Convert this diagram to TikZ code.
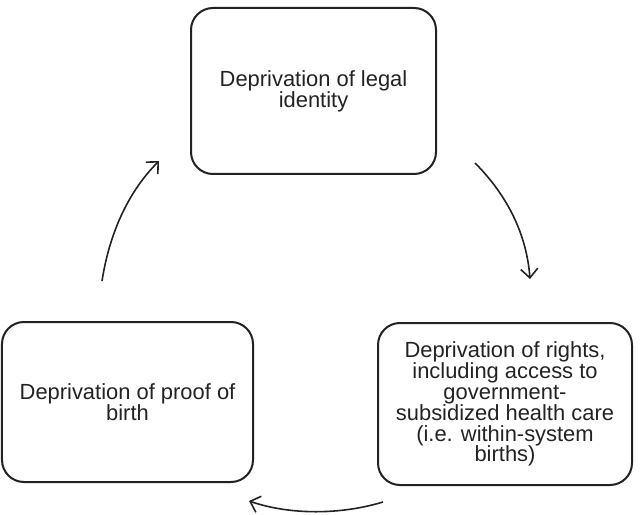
\documentclass[tikz,border=0pt]{standalone}
\usepackage{fontspec}
\setmainfont{Liberation Sans}
\usetikzlibrary{arrows.meta}
\definecolor{ink}{HTML}{222222}
\tikzset{
  box/.style={draw=ink, line width=2bp, rounded corners=22bp, align=center,
    inner sep=0pt, text=ink, font=\fontsize{22}{21}\selectfont},
  cyc/.style={draw=ink, line width=1.6bp,
    -{Straight Barb[length=9bp,width=17bp,line width=1.6bp]}}
}
\begin{document}
\begin{tikzpicture}[x=1bp,y=-1bp]
\useasboundingbox (0,0) rectangle (640,515);
\node[box, minimum width=245bp, minimum height=166bp] (legal) at (313.5,91)
  {Deprivation of legal\\identity};
\node[box, minimum width=254bp, minimum height=162bp] (rights) at (505,404)
  {Deprivation of rights,\\including access to\\government-\\subsidized health care\\(i.e. within-system\\births)};
\node[box, minimum width=251bp, minimum height=160bp] (proof) at (127.5,402)
  {Deprivation of proof of\\birth};
\coordinate (a1s) at (475,163);
\coordinate (a1e) at (530,279);
\coordinate (a2s) at (383,502);
\coordinate (a2e) at (249,501);
\coordinate (a3s) at (102,281);
\coordinate (a3e) at (159,161);
\draw[cyc] (a1s) .. controls (500,188) and (526,226) .. (a1e);
\draw[cyc] (a2s) .. controls (340,515) and (290,515) .. (a2e);
\draw[cyc] (a3s) .. controls (110,230) and (130,190) .. (a3e);
\end{tikzpicture}
\end{document}
